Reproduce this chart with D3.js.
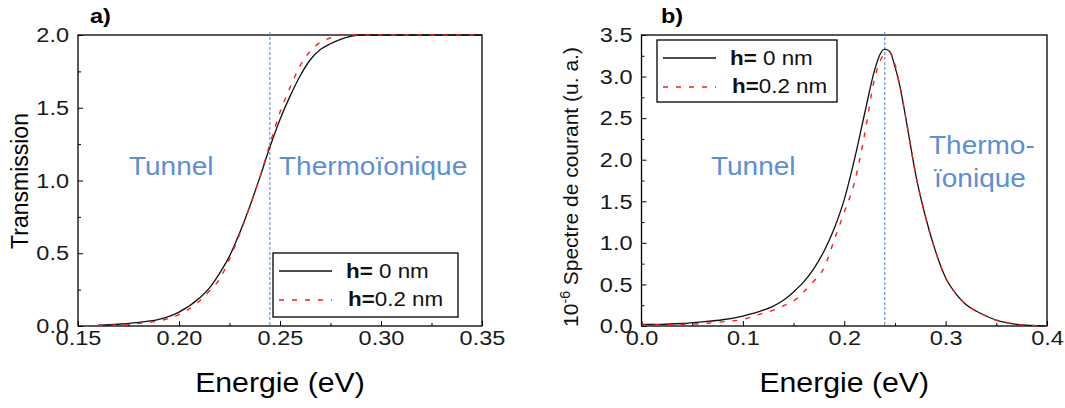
<!DOCTYPE html>
<html><head><meta charset="utf-8">
<script src="https://cdn.jsdelivr.net/npm/d3@7"></script>
<style>body{margin:0;background:#fff}svg{display:block}</style>
</head><body>
<svg id="c" width="1065" height="408"></svg>
<script>
// ---- data ----
const energyT = [0.16,0.17,0.18,0.19,0.20,0.21,0.215,0.22,0.225,0.23,0.235,0.24,0.245,0.25,0.255,0.26,0.265,0.27,0.275,0.28,0.285,0.29,0.30,0.32,0.35];
const transH0 = [0.005,0.012,0.025,0.045,0.095,0.19,0.26,0.36,0.48,0.64,0.82,1.02,1.23,1.42,1.58,1.72,1.83,1.90,1.94,1.97,1.99,2.0,2.0,2.0,2.0];
const transH02 = [0.003,0.008,0.018,0.035,0.078,0.17,0.24,0.32,0.46,0.63,0.82,1.02,1.25,1.47,1.64,1.79,1.89,1.95,1.98,2.0,2.0,2.0,2.0,2.0,2.0];

const energyS = [0.00,0.02,0.04,0.06,0.08,0.10,0.12,0.13,0.14,0.15,0.16,0.17,0.18,0.19,0.20,0.21,0.22,0.23,0.235,0.24,0.245,0.25,0.255,0.26,0.265,0.27,0.28,0.29,0.30,0.31,0.32,0.33,0.34,0.35,0.36,0.37,0.38,0.40];
const specH0 = [0.02,0.02,0.03,0.05,0.075,0.12,0.19,0.24,0.31,0.41,0.53,0.69,0.90,1.17,1.52,2.00,2.55,3.08,3.26,3.33,3.30,3.12,2.88,2.55,2.20,1.85,1.32,0.90,0.58,0.39,0.26,0.18,0.12,0.07,0.04,0.02,0.01,0.00];
const specH02 = [0.01,0.015,0.02,0.03,0.05,0.08,0.155,0.19,0.245,0.30,0.41,0.54,0.70,1.03,1.37,1.72,2.30,2.98,3.18,3.27,3.29,3.15,2.88,2.55,2.20,1.85,1.32,0.90,0.58,0.39,0.26,0.18,0.12,0.07,0.04,0.02,0.01,0.00];

const xTicksA = [0.15,0.20,0.25,0.30,0.35];
const xMinorA = [0.175,0.225,0.275,0.325];
const yTicksA = [0.0,0.5,1.0,1.5,2.0];
const yMinorA = [0.25,0.75,1.25,1.75];
const xTicksB = [0.0,0.1,0.2,0.3,0.4];
const xMinorB = [0.05,0.15,0.25,0.35];
const yTicksB = [0.0,0.5,1.0,1.5,2.0,2.5,3.0,3.5];
const yMinorB = [0.25,0.75,1.25,1.75,2.25,2.75,3.25];

const seriesNames = ["h= 0 nm","h=0.2 nm"];
const regionNames = ["Tunnel","Thermoïonique"];

// ---- drawing ----
const svg = d3.select("#c");
const SX = 1.12;
const FONT = "'Liberation Sans', Arial, sans-serif";
const BLUE = "#5b8fd6";

function stxt(g, x, y, str, size, opts={}) {
  const t = g.append("text")
    .attr("transform", `translate(${x},${y}) scale(${SX},1)`)
    .attr("font-family", FONT).attr("font-size", size)
    .attr("fill", opts.fill || "#000")
    .attr("text-anchor", opts.anchor || "start")
    .attr("font-weight", opts.weight || "normal")
    .text(str);
  return t;
}

function panel(cfg) {
  const g = svg.append("g");
  const x = d3.scaleLinear().domain(cfg.xd).range([cfg.x0, cfg.x1]);
  const y = d3.scaleLinear().domain(cfg.yd).range([cfg.y1, cfg.y0]);

  const ax = g.append("g").attr("transform", `translate(0,${cfg.y1})`)
    .call(d3.axisBottom(x).tickValues(cfg.xt).tickSize(-5).tickPadding(4).tickFormat(d3.format(cfg.xf)));
  g.append("g").attr("transform", `translate(0,${cfg.y1})`)
    .call(d3.axisBottom(x).tickValues(cfg.xm).tickSize(-3).tickFormat(""));
  const ay = g.append("g").attr("transform", `translate(${cfg.x0},0)`)
    .call(d3.axisLeft(y).tickValues(cfg.yt).tickSize(-5).tickPadding(8).tickFormat(d3.format(".1f")));
  g.append("g").attr("transform", `translate(${cfg.x0},0)`)
    .call(d3.axisLeft(y).tickValues(cfg.ym).tickSize(-3).tickFormat(""));
  g.selectAll(".domain").remove();
  g.selectAll(".tick line").attr("stroke", "#000").attr("stroke-width", 1);
  [ax, ay].forEach(a => a.selectAll("text")
    .attr("font-family", FONT).attr("font-size", 21).attr("fill", "#1a1a1a")
    .attr("transform", `scale(${SX},1)`));

  g.append("rect").attr("x", cfg.x0).attr("y", cfg.y0)
    .attr("width", cfg.x1 - cfg.x0).attr("height", cfg.y1 - cfg.y0)
    .attr("fill", "none").attr("stroke", "#000").attr("stroke-width", 1.3);

  g.append("line").attr("x1", x(cfg.vx)).attr("x2", x(cfg.vx))
    .attr("y1", cfg.y0 - 3).attr("y2", cfg.y1)
    .attr("stroke", "#4f84cc").attr("stroke-width", 1).attr("stroke-dasharray", "3,2");

  const line = d3.line().x(d => x(d[0])).y(d => y(d[1])).curve(d3.curveMonotoneX);
  g.append("path").attr("d", line(d3.zip(cfg.ex, cfg.s0)))
    .attr("fill", "none").attr("stroke", "#111").attr("stroke-width", 1.3);
  g.append("path").attr("d", line(d3.zip(cfg.ex, cfg.s1)))
    .attr("fill", "none").attr("stroke", "#ff1a1a").attr("stroke-width", 1.4).attr("stroke-dasharray", "5,8");

  const L = cfg.leg;
  g.append("rect").attr("x", L.x).attr("y", L.y).attr("width", L.w).attr("height", L.h)
    .attr("fill", "#fff").attr("stroke", "#000").attr("stroke-width", 1.3);
  g.append("line").attr("x1", L.x + 6).attr("x2", L.x + 59).attr("y1", L.y + 18).attr("y2", L.y + 18)
    .attr("stroke", "#111").attr("stroke-width", 1.3);
  g.append("line").attr("x1", L.x + 6).attr("x2", L.x + 59).attr("y1", L.y + 47).attr("y2", L.y + 47)
    .attr("stroke", "#ff1a1a").attr("stroke-width", 1.4).attr("stroke-dasharray", "5,8");
  seriesNames.forEach((nm, i) => {
    const t = stxt(g, L.x + (i === 0 ? 73 : 75), L.y + (i === 0 ? 25 : 53), "", 20, {fill: "#111"});
    t.append("tspan").attr("font-weight", "bold").text("h=");
    t.append("tspan").text(nm.slice(2));
  });

  stxt(g, cfg.lab[0], 23, cfg.lab[2], 21, {weight: "bold"});
  stxt(g, (cfg.x0 + cfg.x1) / 2, 392, "Energie (eV)", 27, {anchor: "middle"});
  return {g, x, y};
}

const A = panel({x0: 78, x1: 482, y0: 35, y1: 326, xd: [0.15, 0.35], yd: [0, 2],
  xt: xTicksA, xm: xMinorA, yt: yTicksA, ym: yMinorA, xf: ".2f", vx: 0.245,
  ex: energyT, s0: transH0, s1: transH02,
  leg: {x: 273, y: 253, w: 185, h: 64}, lab: [90, 23, "a)"]});

const B = panel({x0: 641.5, x1: 1047, y0: 35, y1: 326, xd: [0, 0.4], yd: [0, 3.5],
  xt: xTicksB, xm: xMinorB, yt: yTicksB, ym: yMinorB, xf: ".1f", vx: 0.24,
  ex: energyS, s0: specH0, s1: specH02,
  leg: {x: 657, y: 40, w: 180, h: 62}, lab: [661, 23, "b)"]});

stxt(A.g, 129, 175, regionNames[0], 25, {fill: BLUE});
stxt(A.g, 279, 175, regionNames[1], 25, {fill: BLUE});
stxt(B.g, 711, 175, regionNames[0], 25, {fill: BLUE});
stxt(B.g, 929, 154, "Thermo-", 25, {fill: BLUE});
stxt(B.g, 934, 187, "ïonique", 25, {fill: BLUE});

svg.append("text").attr("transform", "translate(27.5,181) rotate(-90)")
  .attr("font-family", FONT).attr("font-size", 23).attr("text-anchor", "middle").text("Transmission");
const yt = svg.append("text").attr("transform", "translate(578,187) rotate(-90)")
  .attr("font-family", FONT).attr("font-size", 21).attr("text-anchor", "middle").attr("fill", "#111");
yt.append("tspan").text("10");
yt.append("tspan").attr("font-size", 14).attr("dy", "-0.55em").text("-6");
yt.append("tspan").attr("dy", "0.38em").text(" Spectre de courant (u. a.)");
</script>
</body></html>
